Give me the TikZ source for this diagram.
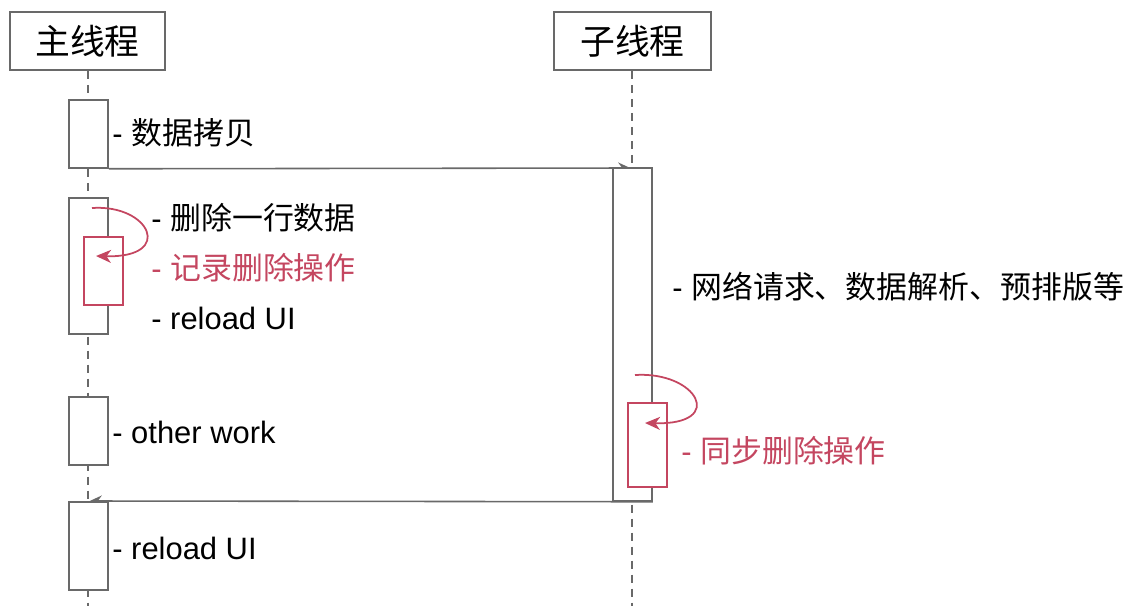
\documentclass[tikz,border=0pt]{standalone}
\usepackage{fontspec}
\setmainfont{Liberation Sans}
\newfontfamily\cjk{Noto Sans CJK SC}
\usetikzlibrary{arrows.meta}
\definecolor{lineg}{RGB}{105,105,105}
\definecolor{mark}{RGB}{196,70,96}
\newcommand{\lt}{\fontsize{17.6pt}{20pt}\selectfont}
\newcommand{\ct}{\cjk}
\begin{document}
\begin{tikzpicture}[x=0.02cm,y=-0.02cm,
  header/.style={draw=lineg,line width=0.9pt,fill=white,minimum width=3.1cm,minimum height=1.16cm,inner sep=0pt,font=\fontsize{19.8pt}{22pt}\selectfont\cjk},
  act/.style={draw=lineg,line width=0.9pt,fill=white,minimum width=0.78cm,inner sep=0pt},
  redact/.style={draw=mark,line width=0.9pt,fill=white,minimum width=0.78cm,inner sep=0pt},
  lifeline/.style={draw=lineg,line width=0.8pt,dash pattern=on 0.16cm off 0.12cm},
  msg/.style={draw=lineg,line width=0.9pt},
  selfarrow/.style={draw=mark,line width=1pt,-{Stealth[length=0.3cm,width=0.26cm,inset=0.09cm]}},
  note/.style={anchor=west,inner sep=0pt},
]
\useasboundingbox (0,0) rectangle (1134,606);

% lifeline headers
\node[header] (mainhd) at (87.5,41) {主线程};
\node[header,minimum width=3.14cm] (subhd) at (632.5,41) {子线程};

% lifelines
\coordinate (mainend) at (88,606);
\coordinate (subend) at (632,606);
\draw[lifeline] (mainhd.south -| mainend) -- (mainend);
\draw[lifeline] (subhd.south -| subend) -- (subend);

% worker thread activation
\node[act,minimum height=6.66cm] (subact) at (632.5,334.5) {};

% main thread activations
\node[act,minimum height=1.36cm] (copy) at (88.5,134) {};
\node[act,minimum height=2.72cm] (del) at (88.5,266) {};
\node[redact,minimum height=1.36cm] (rec) at (103.5,271) {};
\node[act,minimum height=1.36cm] (other) at (88.5,431) {};
\node[act,minimum height=1.76cm] (reload) at (88.5,546) {};

% worker-side record replay
\node[redact,minimum height=1.68cm] (sync) at (647.5,445) {};

% messages between threads
\coordinate (subtop) at (632,168);
\coordinate (maintop) at (88,501);
\draw[msg,-{Stealth[harpoon,length=0.24cm,width=0.22cm]}] (copy.south east) -- (subtop);
\draw[msg,-{Stealth[harpoon,swap,length=0.24cm,width=0.22cm]}] (subact.south east) -- (maintop);

% self calls
\coordinate (s1a) at (92,208);
\coordinate (s1b) at (96,256);
\draw[selfarrow] (s1a) .. controls (150,204) and (175,258) .. (s1b);
\coordinate (s2a) at (635,375);
\coordinate (s2b) at (645,423);
\draw[selfarrow] (s2a) .. controls (697,371) and (727,425) .. (s2b);

% labels
\node[note] (t1) at (112,133) {\lt- {\ct 数据拷贝}};
\node[note] (t2) at (151,218) {\lt- {\ct 删除一行数据}};
\node[note,text=mark] (t3) at (151,268) {\lt- {\ct 记录删除操作}};
\node[note] (t4) at (151,318) {\lt- reload UI};
\node[note] (t5) at (672,287) {\lt- {\ct 网络请求、数据解析、预排版等}};
\node[note] (t6) at (112,432) {\lt- other work};
\node[note,text=mark] (t7) at (681,451) {\lt- {\ct 同步删除操作}};
\node[note] (t8) at (112,548) {\lt- reload UI};
\end{tikzpicture}
\end{document}
